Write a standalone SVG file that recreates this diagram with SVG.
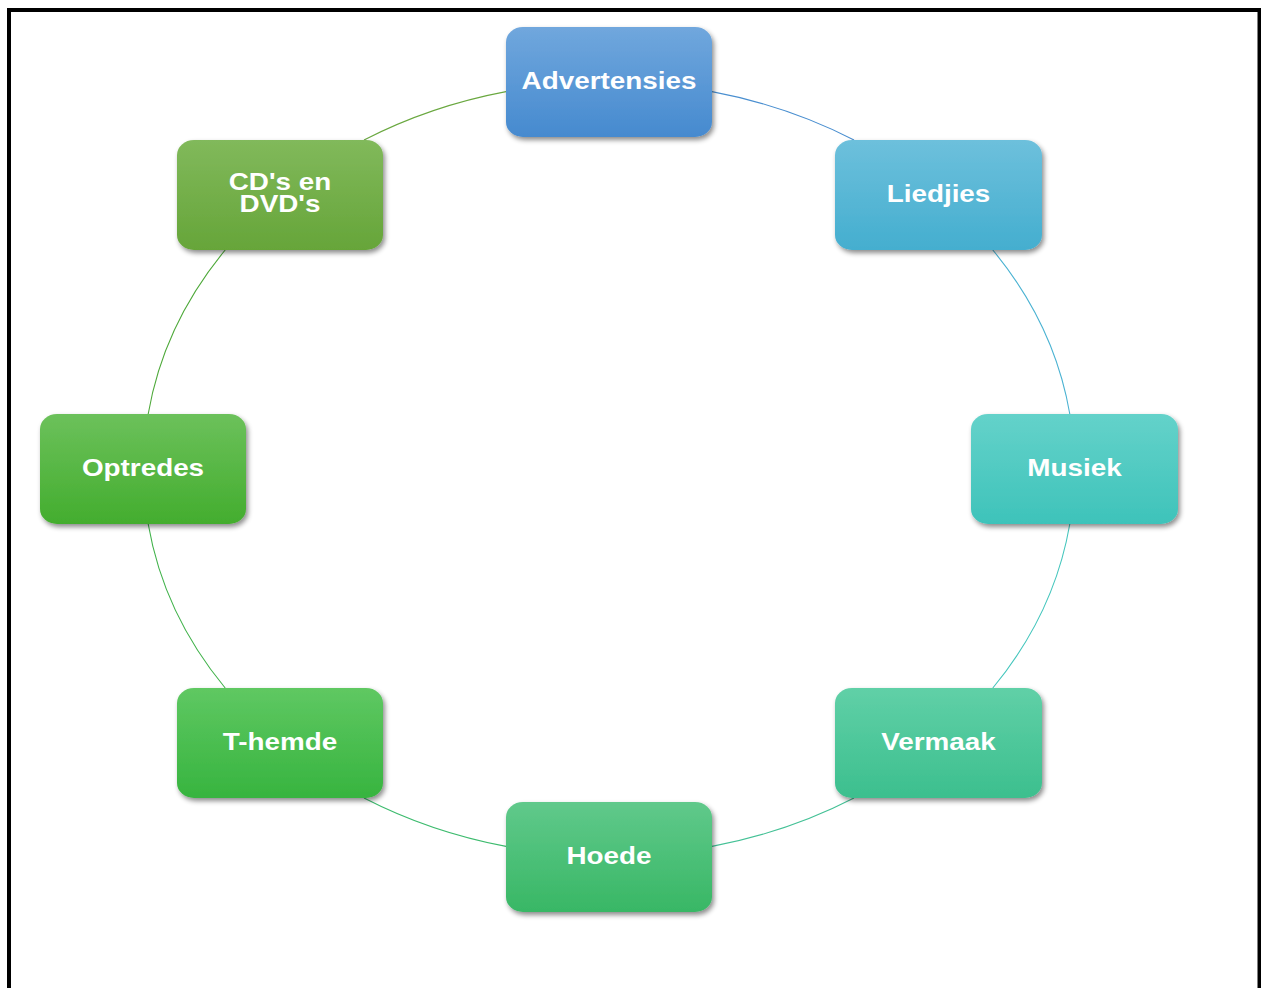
<svg xmlns="http://www.w3.org/2000/svg" width="1261" height="988" viewBox="0 0 1261 988">
  <defs>
    <filter id="shadow" x="-10%" y="-10%" width="125%" height="130%">
      <feDropShadow dx="2" dy="3" stdDeviation="2.5" flood-color="#000" flood-opacity="0.45"/>
    </filter>
    <linearGradient id="gAdv" x1="0" y1="0" x2="0" y2="1"><stop offset="0" stop-color="#70a7dd"/><stop offset="1" stop-color="#468acf"/></linearGradient>
    <linearGradient id="gLied" x1="0" y1="0" x2="0" y2="1"><stop offset="0" stop-color="#6dc0dc"/><stop offset="1" stop-color="#44aecf"/></linearGradient>
    <linearGradient id="gMus" x1="0" y1="0" x2="0" y2="1"><stop offset="0" stop-color="#64d2ca"/><stop offset="1" stop-color="#3ec3ba"/></linearGradient>
    <linearGradient id="gVerm" x1="0" y1="0" x2="0" y2="1"><stop offset="0" stop-color="#60d0a7"/><stop offset="1" stop-color="#3cbf8e"/></linearGradient>
    <linearGradient id="gHoede" x1="0" y1="0" x2="0" y2="1"><stop offset="0" stop-color="#60c98b"/><stop offset="1" stop-color="#38b765"/></linearGradient>
    <linearGradient id="gThem" x1="0" y1="0" x2="0" y2="1"><stop offset="0" stop-color="#5fc862"/><stop offset="1" stop-color="#37b43f"/></linearGradient>
    <linearGradient id="gOpt" x1="0" y1="0" x2="0" y2="1"><stop offset="0" stop-color="#6cc15b"/><stop offset="1" stop-color="#43ad2e"/></linearGradient>
    <linearGradient id="gCd" x1="0" y1="0" x2="0" y2="1"><stop offset="0" stop-color="#81b95b"/><stop offset="1" stop-color="#66a539"/></linearGradient>
  </defs>
  <style>
    .box { filter: url(#shadow); }
    .lbl { font-family: "Liberation Sans", Arial, sans-serif; font-weight: bold; font-size: 24px; fill: #ffffff; text-anchor: middle; }
    .arc { fill: none; stroke-width: 1.1; }
  </style>

  <rect x="0" y="0" width="1261" height="988" fill="#ffffff"/>
  <!-- page frame -->
  <rect x="9" y="10" width="1250.5" height="1000" fill="none" stroke="#000" stroke-width="4"/>

  <!-- ring connectors: elliptical arcs between neighbouring boxes -->
  <g id="connectors">
    <path class="arc" stroke="#4a8fd0" d="M712,91.6 A465.5,387 0 0 1 854,140"/>
    <path class="arc" stroke="#4ab2d2" d="M992.8,250 A465.5,387 0 0 1 1069.8,414"/>
    <path class="arc" stroke="#45c6bd" d="M1069.8,524 A465.5,387 0 0 1 992.8,688"/>
    <path class="arc" stroke="#44c196" d="M854,798 A465.5,387 0 0 1 712,846.4"/>
    <path class="arc" stroke="#3dbb6e" d="M506,846.4 A465.5,387 0 0 1 364,798"/>
    <path class="arc" stroke="#40b24a" d="M225.2,688 A465.5,387 0 0 1 148.2,524"/>
    <path class="arc" stroke="#4ea93a" d="M148.2,414 A465.5,387 0 0 1 225.2,250"/>
    <path class="arc" stroke="#6aa840" d="M364,140 A465.5,387 0 0 1 506,91.6"/>
  </g>

  <g id="advertensies">
    <rect class="box" x="506" y="27" width="206" height="110" rx="17" ry="15" fill="url(#gAdv)"/>
    <text class="lbl" transform="translate(609 89) scale(1.16 1)">Advertensies</text>
  </g>
  <g id="liedjies">
    <rect class="box" x="835" y="140" width="207" height="110" rx="17" ry="15" fill="url(#gLied)"/>
    <text class="lbl" transform="translate(938.5 202) scale(1.16 1)">Liedjies</text>
  </g>
  <g id="musiek">
    <rect class="box" x="971" y="414" width="207" height="110" rx="17" ry="15" fill="url(#gMus)"/>
    <text class="lbl" transform="translate(1074.5 476) scale(1.16 1)">Musiek</text>
  </g>
  <g id="vermaak">
    <rect class="box" x="835" y="688" width="207" height="110" rx="17" ry="15" fill="url(#gVerm)"/>
    <text class="lbl" transform="translate(938.5 750) scale(1.16 1)">Vermaak</text>
  </g>
  <g id="hoede">
    <rect class="box" x="506" y="802" width="206" height="110" rx="17" ry="15" fill="url(#gHoede)"/>
    <text class="lbl" transform="translate(609 864) scale(1.16 1)">Hoede</text>
  </g>
  <g id="t-hemde">
    <rect class="box" x="177" y="688" width="206" height="110" rx="17" ry="15" fill="url(#gThem)"/>
    <text class="lbl" transform="translate(280 750) scale(1.16 1)">T-hemde</text>
  </g>
  <g id="optredes">
    <rect class="box" x="40" y="414" width="206" height="110" rx="17" ry="15" fill="url(#gOpt)"/>
    <text class="lbl" transform="translate(143 476) scale(1.16 1)">Optredes</text>
  </g>
  <g id="cds-en-dvds">
    <rect class="box" x="177" y="140" width="206" height="110" rx="17" ry="15" fill="url(#gCd)"/>
    <text class="lbl" transform="translate(280 190) scale(1.16 1)">CD's en</text>
    <text class="lbl" transform="translate(280 212) scale(1.16 1)">DVD's</text>
  </g>
</svg>
